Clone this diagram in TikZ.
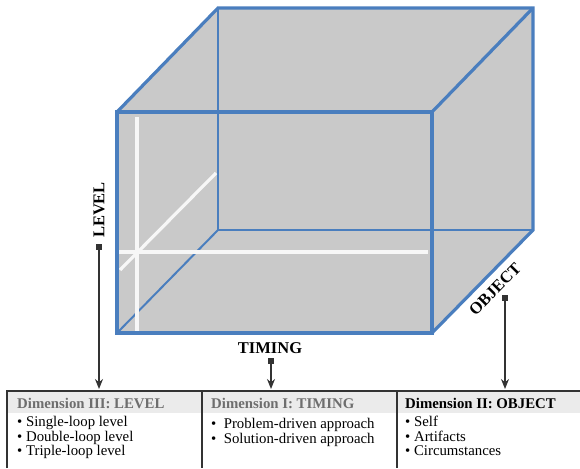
\documentclass[tikz,border=0pt]{standalone}
\usepackage{fontspec}
\setmainfont{Liberation Serif}
\usetikzlibrary{arrows.meta}
\definecolor{cubeblue}{HTML}{4A7EBE}
\definecolor{cubegray}{HTML}{C9C9C9}
\definecolor{hdrgray}{HTML}{EBEBEB}
\definecolor{linec}{HTML}{333333}
\definecolor{hdrtext}{HTML}{6E6E6E}
\begin{document}
\begin{tikzpicture}[x=1pt,y=-1pt,
  frontedge/.style={cubeblue,line width=3.2pt,line join=miter},
  hiddenedge/.style={cubeblue,line width=2pt},
  whiteline/.style={white!94!gray,line width=3.2pt},
  axislabel/.style={font=\fontsize{16.5}{16.5}\selectfont\bfseries,inner sep=0pt},
  marker/.style={fill=linec,minimum size=5.5pt,inner sep=0pt},
  pointer/.style={linec,line width=1.6pt,-{Stealth[length=10pt,width=8pt]}},
  hdr/.style={font=\fontsize{14.8}{15}\selectfont\bfseries,anchor=west,inner sep=0pt},
  items/.style={font=\fontsize{14.8}{14.6}\selectfont,anchor=north west,inner sep=0pt,align=left},
  tableline/.style={linec,line width=1.6pt}]
\useasboundingbox (0,0) rectangle (580,468);
% cube corners
\coordinate (FTL) at (117,112);
\coordinate (FTR) at (432,112);
\coordinate (FBL) at (117,333);
\coordinate (FBR) at (432,333);
\coordinate (BTL) at (218,8);
\coordinate (BTR) at (533,8);
\coordinate (BBL) at (218,230);
\coordinate (BBR) at (533,230);
\fill[cubegray] (FTL)--(BTL)--(BTR)--(BBR)--(FBR)--(FBL)--cycle;
% hidden edges
\draw[hiddenedge] (BTL)--(BBL)--(BBR);
\draw[hiddenedge] (BBL)--(FBL);
% white guide lines
\draw[whiteline] (137,117)--(137,333);
\draw[whiteline] (118,252)--(428,252);
\draw[whiteline] (120,270)--(216,173);
% visible edges
\draw[frontedge] (FTL) rectangle (FBR);
\draw[frontedge] (FTR)--(BTR);
\draw[frontedge] (FTL)--(BTL)--(BTR)--(BBR)--(FBR);
% table
\fill[hdrgray] (7,391) rectangle (580,413);
\draw[tableline] (7,468)--(7,391)--(580,391);
\draw[tableline] (202,391)--(202,468);
\draw[tableline] (397,391)--(397,468);
\node[hdr,text=hdrtext] (h3) at (17,403) {Dimension III: LEVEL};
\node[hdr,text=hdrtext] (h1) at (211,403) {Dimension I: TIMING};
\node[hdr,text=black] (h2) at (405,403) {Dimension II: OBJECT};
\node[items] (i3) at (17,416) {• Single-loop level\\• Double-loop level\\• Triple-loop level};
\node[items] (i1) at (211,418) {•\ \ Problem-driven approach\\•\ \ Solution-driven approach};
\node[items] (i2) at (405,416) {• Self\\• Artifacts\\• Circumstances};
% axis labels
\node[axislabel,rotate=90] (level) at (99,210) {LEVEL};
\node[axislabel] (timing) at (270,348) {TIMING};
\node[axislabel,rotate=45.5] (object) at (495,289) {OBJECT};
\node[marker] (mlevel) at (99,247) {};
\node[marker] (mtiming) at (271,361) {};
\node[marker] (mobject) at (505,298) {};
\coordinate (tlevel) at (99,389);
\coordinate (ttiming) at (271,389);
\coordinate (tobject) at (505,389);
\draw[pointer] (mlevel)--(tlevel);
\draw[pointer] (mtiming)--(ttiming);
\draw[pointer] (mobject)--(tobject);
\end{tikzpicture}
\end{document}
